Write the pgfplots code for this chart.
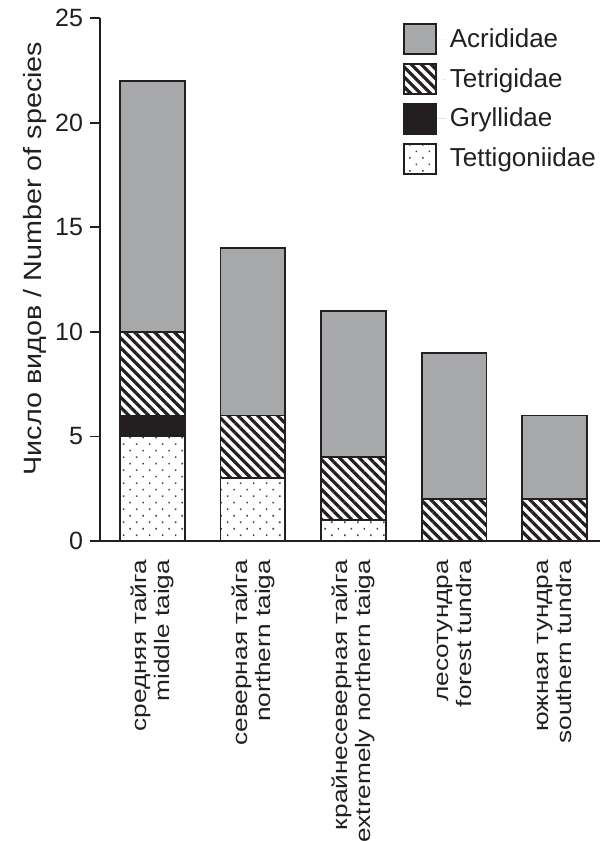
\documentclass[border=0pt]{standalone}
\usepackage{pgfplots}
\pgfplotsset{compat=1.18}
\usepackage{fontspec}
\setmainfont{Liberation Sans}
\usetikzlibrary{patterns.meta,calc}
\definecolor{fgray}{HTML}{A7A8AA}
\definecolor{dk}{HTML}{231F20}
\begin{document}
\begin{tikzpicture}
\begin{axis}[
  scale only axis, width=250pt, height=261.5pt,
  ybar stacked, bar width=0.644,
  xmin=-0.52, xmax=4.45, ymin=0, ymax=25,
  axis x line=bottom, axis y line=left,
  axis line style={-, draw=dk, line width=0.9pt},
  xtick=data,
  xticklabels={средняя тайга\\middle taiga, северная тайга\\northern taiga, крайнесеверная тайга\\extremely northern taiga, лесотундра\\forest tundra, южная тундра\\southern tundra},
  x tick style={draw=none},
  ytick={0,5,10,15,20,25},
  y tick style={draw=dk, line width=0.9pt},
  tick align=outside, major tick length=5pt,
  /pgf/number format/assume math mode=true,
  yticklabel style={font=\fontsize{12.5}{14}\selectfont, color=dk},
  xticklabel style={font=\fontsize{10.5}{11.5}\selectfont, rotate=90, xscale=1.25, anchor=east, align=right, color=dk},
  ylabel={Число видов / Number of species},
  ylabel style={font=\fontsize{12.5}{14}\selectfont, at={(axis description cs:-0.13,0.54)}, anchor=center, xscale=1.15, color=dk},
  legend style={draw=none, fill=none, at={(0.593,0.998)}, anchor=north west, font=\fontsize{13}{15}\selectfont, row sep=4pt, text=dk},
  legend cell align=left,
  reverse legend,
  legend image code/.code={\draw[#1, draw=dk, line width=0.9pt] (0pt,-7.5pt) rectangle (16pt,7.5pt); \path[draw=none] (16pt,0pt) -- (21pt,0pt);},
]
\addplot[draw=dk, line width=0.9pt, pattern={Dots[angle=45, distance=4.6pt, radius=0.55pt]}, pattern color=dk!85] coordinates {(0,5) (1,3) (2,1) (3,0) (4,0)};
\addlegendentry{Tettigoniidae}
\addplot[draw=dk, line width=0.9pt, fill=dk] coordinates {(0,1) (1,0) (2,0) (3,0) (4,0)};
\addlegendentry{Gryllidae}
\addplot[draw=dk, line width=0.9pt, pattern={Lines[angle=-45, distance=3.5pt, line width=1.6pt]}, pattern color=dk] coordinates {(0,4) (1,3) (2,3) (3,2) (4,2)};
\addlegendentry{Tetrigidae}
\addplot[draw=dk, line width=0.9pt, fill=fgray] coordinates {(0,12) (1,8) (2,7) (3,7) (4,4)};
\addlegendentry{Acrididae}
\end{axis}
\pgfresetboundingbox
\path[use as bounding box] ($(current axis.south west)+(-50pt,-150pt)$) rectangle ($(current axis.south west)+(252pt,270.5pt)$);
\end{tikzpicture}
\end{document}
